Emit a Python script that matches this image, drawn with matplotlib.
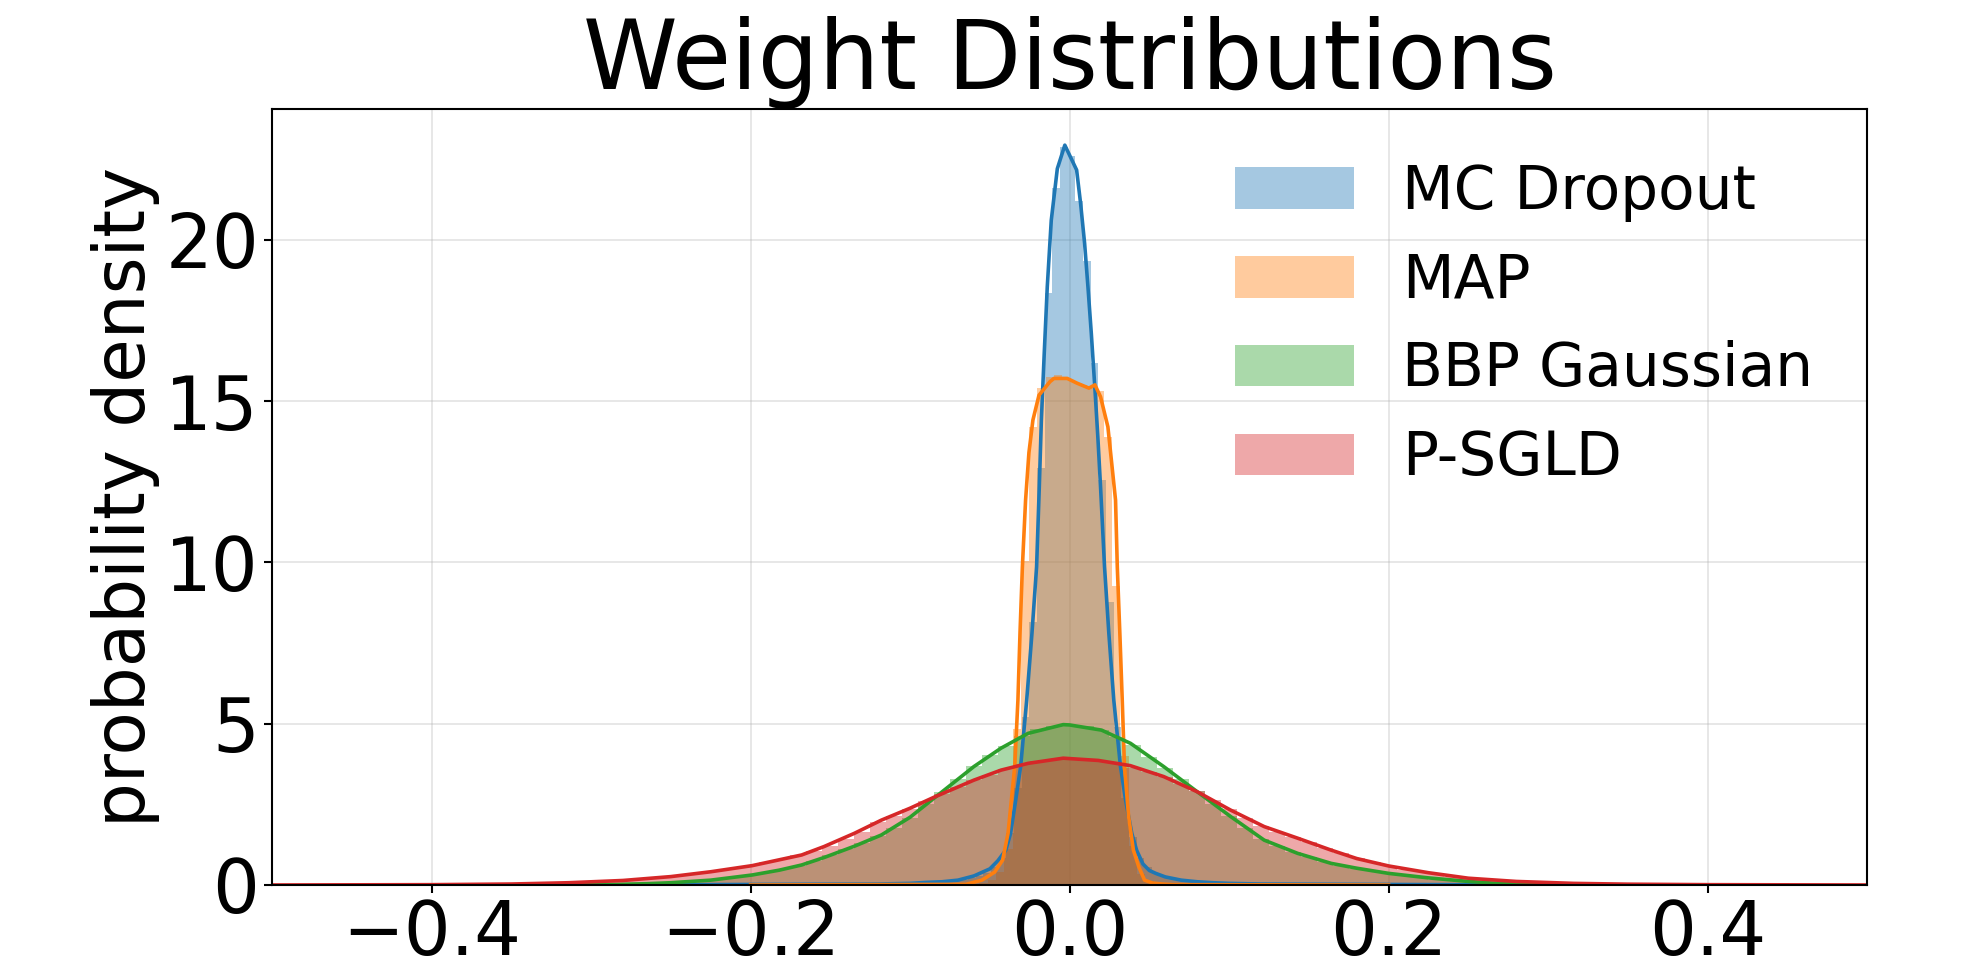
import numpy as np
import matplotlib
matplotlib.use("Agg")
import matplotlib.pyplot as plt

labels = ["MC Dropout", "MAP", "BBP Gaussian", "P-SGLD"]
colors = ["#1f77b4", "#ff7f0e", "#2ca02c", "#d62728"]

# ---- histogram data: first bin left edge, bin width, bar heights ----
mc_hist_start = -0.1212
mc_hist_width = 0.0048
mc_hist = [0.03, 0.03, 0.04, 0.04, 0.05, 0.06, 0.07, 0.08, 0.10, 0.12,
           0.14, 0.17, 0.21, 0.27, 0.36, 0.55, 0.85, 1.60, 3.0, 5.2,
           8.15, 12.91, 18.34, 21.59, 22.88,
           22.6, 21.2, 19.35, 16.17, 12.55, 8.78, 4.9, 2.7, 1.5, 0.85,
           0.55, 0.38, 0.27, 0.2, 0.16, 0.13, 0.11, 0.09, 0.08, 0.07,
           0.06, 0.05, 0.04, 0.04, 0.03, 0.03]

map_hist_start = -0.0618
map_hist_width = 0.0052
map_hist = [0.03, 0.06, 0.15, 0.40, 1.10, 4.85, 10.04, 14.2, 15.4, 15.75,
            15.8, 15.7, 15.6, 15.5, 15.45, 15.3, 13.88, 9.27, 4.0, 1.2,
            0.35, 0.12, 0.05, 0.02]

bbp_hist_start = -0.305
bbp_hist_width = 0.01
bbp_hist = [0.01, 0.02, 0.02, 0.04, 0.05, 0.07, 0.10, 0.14, 0.18, 0.24,
            0.30, 0.40, 0.50, 0.60, 0.74, 0.92, 1.10, 1.30, 1.52, 1.78,
            2.07, 2.50, 2.88, 3.30, 3.68, 4.02, 4.32, 4.62, 4.82, 4.93,
            4.97,
            4.92, 4.80, 4.60, 4.33, 3.98, 3.64, 3.28, 2.90, 2.52, 2.14,
            1.78, 1.44, 1.22, 1.02, 0.86, 0.72, 0.60, 0.50, 0.42, 0.34,
            0.27, 0.21, 0.16, 0.13, 0.10, 0.07, 0.05, 0.03, 0.02, 0.01]

psgld_hist_start = -0.405
psgld_hist_width = 0.01
psgld_hist = [0.01, 0.01, 0.01, 0.02, 0.02, 0.03, 0.04, 0.05, 0.06, 0.08,
              0.10, 0.12, 0.15, 0.18, 0.22, 0.27, 0.33, 0.39, 0.45, 0.52,
              0.60, 0.70, 0.80, 0.92, 1.06, 1.22, 1.42, 1.65, 1.95, 2.15,
              2.36, 2.60, 2.82, 3.04, 3.24, 3.42, 3.60, 3.74, 3.84, 3.90,
              3.93,
              3.90, 3.84, 3.74, 3.64, 3.50, 3.34, 3.12, 2.90, 2.62, 2.34,
              2.08, 1.84, 1.65, 1.48, 1.32, 1.14, 0.98, 0.84, 0.70, 0.58,
              0.48, 0.40, 0.33, 0.26, 0.21, 0.17, 0.13, 0.10, 0.08, 0.06,
              0.05, 0.04, 0.03, 0.02, 0.02, 0.01, 0.01, 0.01, 0.01, 0.01]

# ---- density curves ----
mc_kde_x = [-0.30, -0.12, -0.10, -0.09, -0.08, -0.07, -0.06, -0.05, -0.045,
            -0.040, -0.037, -0.0338, -0.0307, -0.0269, -0.0236, -0.0207,
            -0.019, -0.0177, -0.0159, -0.014, -0.0115, -0.0077, -0.003,
            0.0044, 0.0069, 0.0094, 0.0115, 0.0136, 0.0158, 0.0177, 0.0194,
            0.0219, 0.0246, 0.0277, 0.0319, 0.0351, 0.039, 0.042, 0.046,
            0.05, 0.054, 0.06, 0.07, 0.08, 0.09, 0.10, 0.12, 0.30]
mc_kde_y = [0.0, 0.03, 0.05, 0.08, 0.10, 0.15, 0.28, 0.50, 0.75,
            1.08, 1.60, 2.63, 3.67, 5.73, 7.80, 9.86,
            12.34, 14.41, 16.48, 18.54, 20.6, 22.2, 22.93,
            22.16, 21.12, 19.89, 18.54, 17.10, 15.44, 13.89, 12.34,
            9.86, 7.80, 5.73, 3.67, 2.63, 1.60, 1.08, 0.65,
            0.45, 0.36, 0.25, 0.15, 0.10, 0.07, 0.05, 0.03, 0.0]

map_kde_x = [-0.20, -0.065, -0.055, -0.047, -0.042, -0.0386, -0.0344, -0.0324,
             -0.0311, -0.0296, -0.0276, -0.0255, -0.023, -0.0192, -0.0123,
             -0.0098, -0.0015, 0.0048, 0.0121, 0.0159, 0.0194, 0.024, 0.0257,
             0.0288, 0.0299, 0.0315, 0.033, 0.0344, 0.037, 0.040, 0.0434,
             0.047, 0.052, 0.058, 0.065, 0.20]
map_kde_y = [0.0, 0.02, 0.15, 0.40, 0.77, 1.60, 3.67, 5.73,
             7.80, 9.86, 11.93, 13.4, 14.41, 15.18, 15.6,
             15.7, 15.7, 15.55, 15.4, 15.5, 15.13, 14.2, 13.4,
             11.93, 9.86, 7.80, 5.73, 3.67, 2.12, 1.08, 0.56,
             0.15, 0.06, 0.03, 0.01, 0.0]

bbp_kde_x = [-0.45, -0.35, -0.30, -0.282, -0.265, -0.25, -0.225, -0.199,
             -0.182, -0.168, -0.154, -0.135, -0.118, -0.10, -0.085, -0.072,
             -0.06, -0.043, -0.026, -0.004, 0.0, 0.02, 0.0382, 0.059,
             0.080, 0.101, 0.122, 0.143, 0.164, 0.18, 0.20, 0.225, 0.25,
             0.265, 0.283, 0.30, 0.35, 0.45]
bbp_kde_y = [0.0, 0.0, 0.01, 0.02, 0.04, 0.07, 0.15, 0.31,
             0.46, 0.62, 0.85, 1.20, 1.55, 2.10, 2.69, 3.20,
             3.67, 4.24, 4.70, 4.97, 4.96, 4.80, 4.39, 3.67,
             2.89, 2.12, 1.39, 0.98, 0.67, 0.52, 0.36, 0.22, 0.11,
             0.06, 0.03, 0.01, 0.0, 0.0]

psgld_kde_x = [-0.50, -0.40, -0.35, -0.314, -0.28, -0.25, -0.225, -0.199,
               -0.168, -0.154, -0.135, -0.118, -0.10, -0.085, -0.06, -0.043,
               -0.026, -0.004, 0.018, 0.038, 0.059, 0.080, 0.101, 0.122,
               0.143, 0.164, 0.18, 0.20, 0.225, 0.25, 0.28, 0.316, 0.35,
               0.40, 0.50]
psgld_kde_y = [0.0, 0.01, 0.03, 0.07, 0.14, 0.26, 0.41, 0.60,
               0.93, 1.19, 1.60, 2.01, 2.38, 2.72, 3.25, 3.56,
               3.77, 3.93, 3.86, 3.70, 3.36, 2.89, 2.32, 1.81,
               1.45, 1.08, 0.82, 0.59, 0.38, 0.21, 0.11, 0.05, 0.025,
               0.01, 0.0]

x_ticks = [-0.4, -0.2, 0.0, 0.2, 0.4]
y_ticks = [0, 5, 10, 15, 20]

series = [
    (mc_hist_start, mc_hist_width, mc_hist, mc_kde_x, mc_kde_y),
    (map_hist_start, map_hist_width, map_hist, map_kde_x, map_kde_y),
    (bbp_hist_start, bbp_hist_width, bbp_hist, bbp_kde_x, bbp_kde_y),
    (psgld_hist_start, psgld_hist_width, psgld_hist, psgld_kde_x, psgld_kde_y),
]

fig = plt.figure(figsize=(19.66, 9.69), dpi=100)
ax = fig.add_axes([0.1384, 0.0867, 0.8113, 0.8008])

for (start, width, heights, kx, ky), lab, col in zip(series, labels, colors):
    heights = np.asarray(heights)
    lefts = start + width * np.arange(len(heights))
    ax.bar(lefts, heights, width=width, align="edge", color=col, alpha=0.4,
           linewidth=0, label=lab)
    ax.plot(kx, ky, color=col, lw=2.6, solid_joinstyle="round")

ax.set_xlim(-0.5, 0.5)
ax.set_ylim(0, 24.05)
ax.set_xticks(x_ticks)
ax.set_yticks(y_ticks)
ax.grid(True, color="#b0b0b0", alpha=0.3, linewidth=1.4)
ax.set_axisbelow(True)
for sp in ax.spines.values():
    sp.set_linewidth(1.5)
ax.tick_params(labelsize=53, length=6, width=1.5)
ax.set_ylabel("probability density", fontsize=51)
ax.set_title("Weight Distributions", fontsize=69, pad=7)
ax.legend(loc="upper right", fontsize=43, frameon=False)

fig.savefig("out.png", dpi=100)
